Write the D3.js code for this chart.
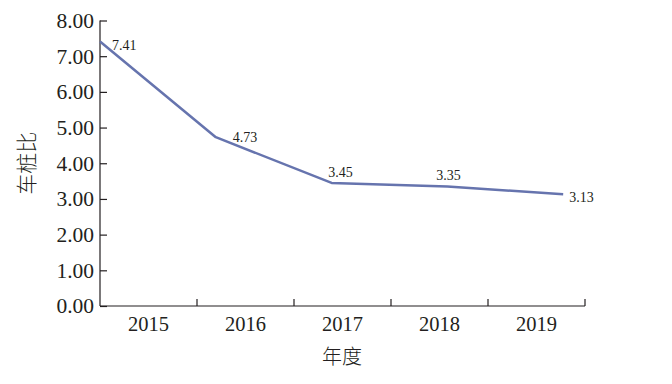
<!DOCTYPE html>
<meta charset="utf-8">
<style>
  body { margin: 0; background: #fff; }
  text { font-family: "Liberation Serif", serif; fill: #231f20; }
  .cjk { font-family: "Noto Sans CJK SC", sans-serif; font-weight: 300; }
  .line { fill: none; stroke: #6674ae; stroke-width: 2.5px; stroke-linejoin: round; }
</style>
<body>
<script src="https://d3js.org/d3.v7.min.js"></script>
<script>

// chart data
var years = ["2015", "2016", "2017", "2018", "2019"];
var ratio = [7.41, 4.73, 3.45, 3.35, 3.13];
var yTicks = [0, 1, 2, 3, 4, 5, 6, 7, 8];

var width = 672, height = 384;
var margin = {top: 20.5, right: 87, bottom: 78, left: 100};
var w = width - margin.left - margin.right,
    h = height - margin.top - margin.bottom;

var svg = d3.select("body").append("svg")
  .attr("width", width)
  .attr("height", height);

var g = svg.append("g")
  .attr("transform", "translate(" + margin.left + "," + margin.top + ")");

// category bands for the axis, points for the line (spread like the original)
var xBand = d3.scaleBand().domain(years).range([0, w]);
var xPt = d3.scalePoint().domain(years).range([0, w * 0.955]);
var y = d3.scaleLinear().domain([0, 8]).range([h, 0]);

// y axis
var ya = g.append("g")
  .call(d3.axisLeft(y).tickValues(yTicks).tickFormat(d3.format(".2f")).tickSize(-7).tickPadding(6));
ya.attr("font-family", null);
ya.selectAll("text").style("font-size", "21.5px").style("font-family", "Liberation Serif");
ya.selectAll("line, path").attr("stroke", "#231f20").attr("stroke-width", 1.2);
ya.select(".domain").attr("d", "M0," + h + "V0");

// x axis
var xa = g.append("g")
  .attr("transform", "translate(0," + h + ")")
  .call(d3.axisBottom(xBand).tickSize(0).tickPadding(10));
xa.attr("font-family", null);
xa.selectAll("text").style("font-size", "20.5px").style("font-family", "Liberation Serif");
xa.select(".domain").attr("d", "M0,0H" + w).attr("stroke", "#231f20").attr("stroke-width", 1.2);

var bounds = years.slice(1).map(function(d) { return xBand(d); }).concat([w]);
xa.selectAll(".sep")
  .data(bounds)
  .enter().append("line")
  .attr("class", "sep")
  .attr("x1", function(d) { return d; })
  .attr("x2", function(d) { return d; })
  .attr("y1", 0)
  .attr("y2", -7)
  .attr("stroke", "#231f20")
  .attr("stroke-width", 1.2);

// axis titles
svg.append("text")
  .attr("class", "cjk")
  .attr("transform", "translate(34," + (margin.top + h / 2) + ") rotate(-90)")
  .attr("text-anchor", "middle")
  .style("font-size", "21px")
  .text("车桩比");

svg.append("text")
  .attr("class", "cjk")
  .attr("x", 342)
  .attr("y", 364)
  .attr("text-anchor", "middle")
  .style("font-size", "20px")
  .text("年度");

// line
var pts = years.map(function(d, i) { return {year: d, v: ratio[i]}; });

var line = d3.line()
  .x(function(d) { return xPt(d.year); })
  .y(function(d) { return y(d.v); });

g.append("path")
  .datum(pts)
  .attr("class", "line")
  .attr("d", line);

// value labels
var labOff = [[12, 8, "start"], [17, 5, "start"], [9, -6, "middle"], [1, -6, "middle"], [6, 8, "start"]];

g.selectAll(".val")
  .data(pts)
  .enter().append("text")
  .attr("class", "val")
  .attr("x", function(d, i) { return xPt(d.year) + labOff[i][0]; })
  .attr("y", function(d, i) { return y(d.v) + labOff[i][1]; })
  .attr("text-anchor", function(d, i) { return labOff[i][2]; })
  .style("font-size", "14px")
  .text(function(d) { return d3.format(".2f")(d.v); });

</script>
</body>
